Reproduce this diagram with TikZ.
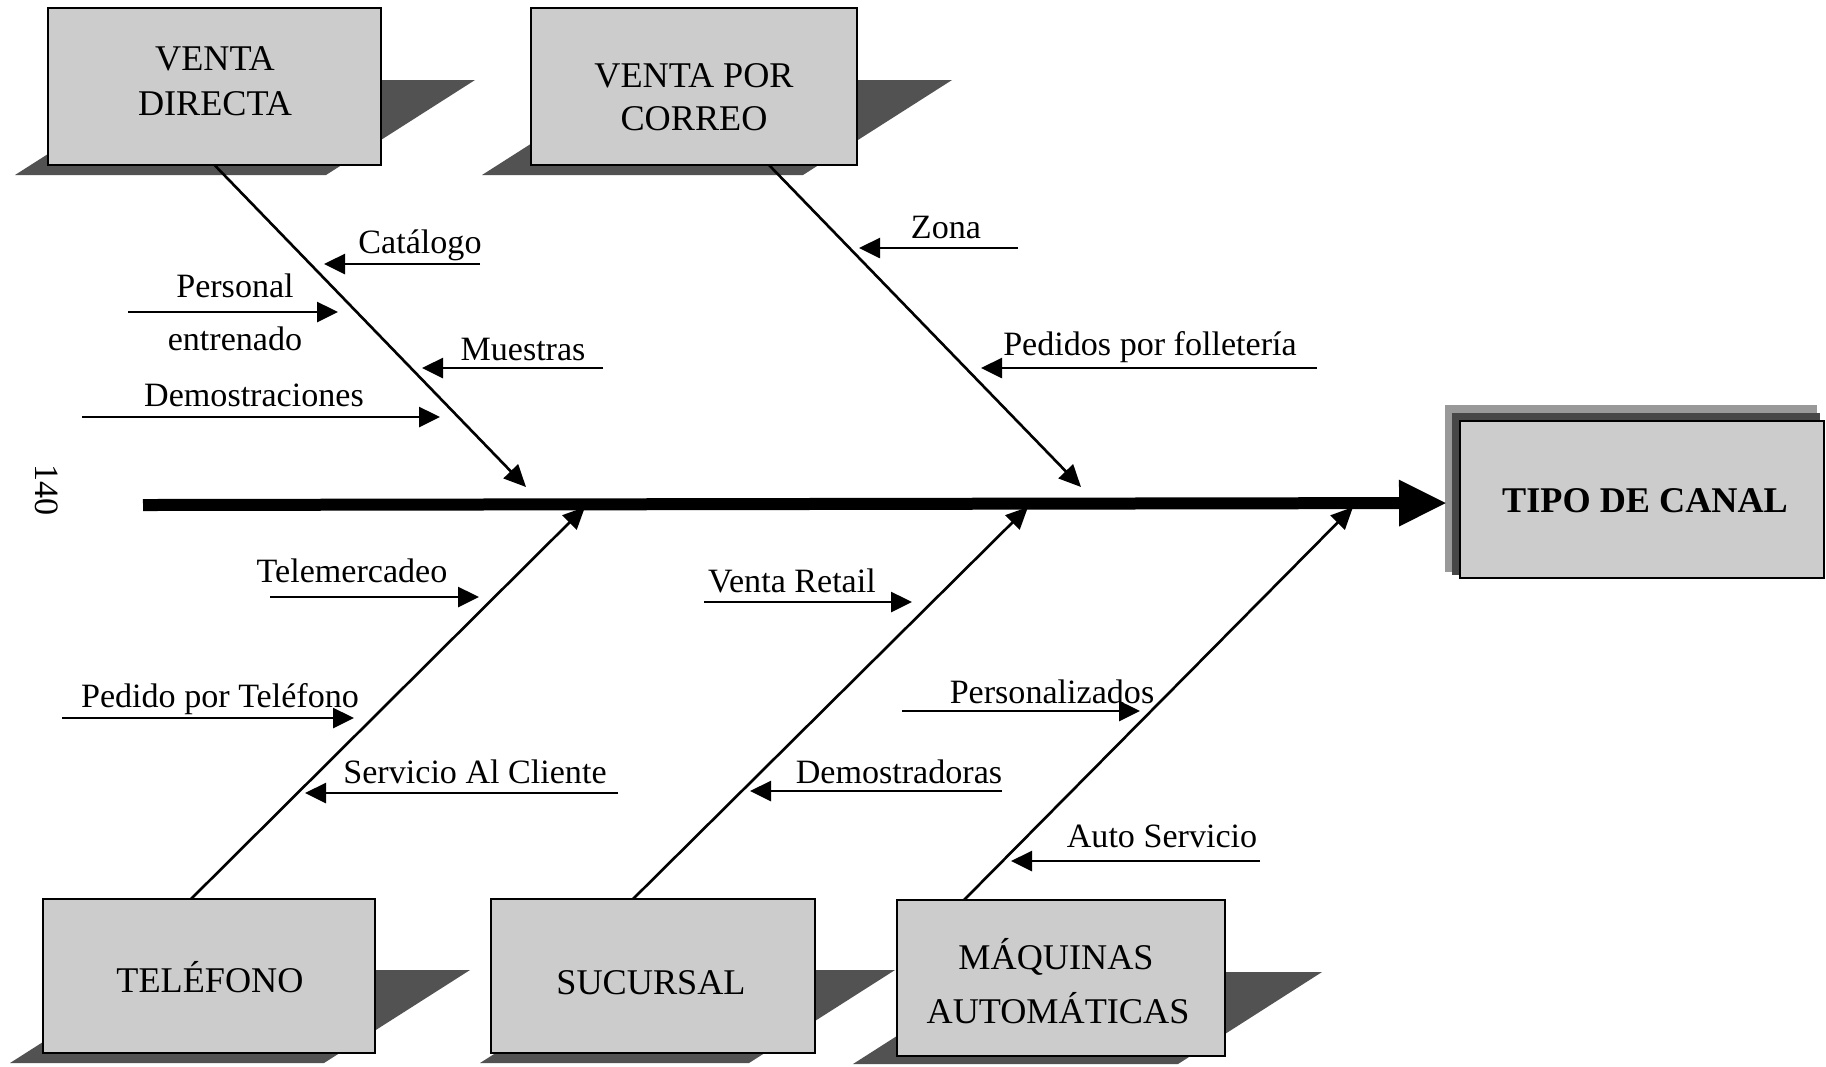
\documentclass[tikz,border=0pt]{standalone}
\usepackage{fontspec}
\setmainfont{Liberation Serif}
\usetikzlibrary{arrows.meta}
\begin{document}
\begin{tikzpicture}[x=0.1mm,y=-0.1mm,
  boxst/.style={draw=black, line width=0.6pt, fill=black!20, inner sep=0pt},
  shadowst/.style={fill=black!68, draw=none},
  lbl/.style={font=\fontsize{9.7pt}{12pt}\selectfont, inner sep=0pt, anchor=base},
  boxtxt/.style={font=\fontsize{10.3pt}{12.5pt}\selectfont, inner sep=0pt, anchor=base},
  bone/.style={line width=0.75pt, -{Triangle[length=2.2mm,width=2mm]}},
  sub/.style={line width=0.75pt, -{Triangle[length=2.1mm,width=2mm]}},
  spine/.style={line width=1.2mm, -{Triangle[length=4.8mm,width=4.3mm]}}
]
\useasboundingbox (0,0) rectangle (1826,1066);

% ---------- shadows ----------
\fill[shadowst] (15,175) -- (326,175) -- (475,80) -- (164,80) -- cycle;
\fill[shadowst] (482,175) -- (803,175) -- (952,80) -- (631,80) -- cycle;
\fill[shadowst] (10,1063) -- (324,1063) -- (470,970) -- (156,970) -- cycle;
\fill[shadowst] (480,1063) -- (749,1063) -- (895,970) -- (626,970) -- cycle;
\fill[shadowst] (853,1064) -- (1178,1064) -- (1322,972) -- (997,972) -- cycle;
\fill[black!40] (1445,405) rectangle (1817,572);
\fill[black!72] (1452,413) rectangle (1820,575);

% ---------- boxes ----------
\node[boxst, minimum width=33.3mm, minimum height=15.7mm] (vd)  at (214.5,86.5) {};
\node[boxst, minimum width=32.6mm, minimum height=15.7mm] (vpc) at (694,86.5) {};
\node[boxst, minimum width=33.2mm, minimum height=15.4mm] (tel) at (209,976) {};
\node[boxst, minimum width=32.4mm, minimum height=15.4mm] (suc) at (653,976) {};
\node[boxst, minimum width=32.8mm, minimum height=15.6mm] (maq) at (1061,978) {};
\node[boxst, minimum width=36.4mm, minimum height=15.7mm] (canal) at (1642,499.5) {};

\node[boxtxt] (vd1) at (215,70) {VENTA};
\node[boxtxt] (vd2) at (215,115) {DIRECTA};
\node[boxtxt] (vpc1) at (694,87) {VENTA POR};
\node[boxtxt] (vpc2) at (694,130) {CORREO};
\node[boxtxt] (telt) at (210,992) {TELÉFONO};
\node[boxtxt] (suct) at (651,994) {SUCURSAL};
\node[boxtxt] (maq1) at (1056,969) {MÁQUINAS};
\node[boxtxt] (maq2) at (1058,1023) {AUTOMÁTICAS};
\node[boxtxt, font=\fontsize{10.3pt}{12.5pt}\selectfont\bfseries] (canalt) at (1645,512) {TIPO DE CANAL};

\node[lbl, anchor=center, rotate=-90] (pg) at (47,490) {140};

% ---------- spine ----------
\coordinate (sp0) at (143,505);
\coordinate (sp1) at (1447,503);
\draw[spine] (sp0) -- (sp1);

% ---------- bones ----------
\coordinate (b1s) at (214.5,165);  \coordinate (b1e) at (526,487);
\coordinate (b2s) at (769,165);    \coordinate (b2e) at (1081,487);
\coordinate (b3s) at (191,899);    \coordinate (b3e) at (585,507);
\coordinate (b4s) at (633,899);    \coordinate (b4e) at (1028,507);
\coordinate (b5s) at (964,900);    \coordinate (b5e) at (1353,507);
\draw[bone] (b1s) -- (b1e);
\draw[bone] (b2s) -- (b2e);
\draw[bone] (b3s) -- (b3e);
\draw[bone] (b4s) -- (b4e);
\draw[bone] (b5s) -- (b5e);

% ---------- sub-causes ----------
\coordinate (s1a) at (480,264);  \coordinate (s1b) at (324,264);
\coordinate (s2a) at (128,312);  \coordinate (s2b) at (338,312);
\coordinate (s3a) at (603,368);  \coordinate (s3b) at (422,368);
\coordinate (s4a) at (82,417);   \coordinate (s4b) at (440,417);
\coordinate (s5a) at (1018,248); \coordinate (s5b) at (859,248);
\coordinate (s6a) at (1317,368); \coordinate (s6b) at (981,368);
\coordinate (s7a) at (270,597);  \coordinate (s7b) at (479,597);
\coordinate (s8a) at (62,718);   \coordinate (s8b) at (354,718);
\coordinate (s9a) at (618,793);  \coordinate (s9b) at (305,793);
\coordinate (s10a) at (704,602); \coordinate (s10b) at (912,602);
\coordinate (s11a) at (1002,791);\coordinate (s11b) at (750,791);
\coordinate (s12a) at (902,711); \coordinate (s12b) at (1140,711);
\coordinate (s13a) at (1260,861);\coordinate (s13b) at (1011,861);
\foreach \i in {1,...,13} {\draw[sub] (s\i a) -- (s\i b);}

\node[lbl] (t1) at (420,253) {Catálogo};
\node[lbl] (t2a) at (235,297) {Personal};
\node[lbl] (t2b) at (235,350) {entrenado};
\node[lbl] (t3) at (523,360) {Muestras};
\node[lbl] (t4) at (254,406) {Demostraciones};
\node[lbl] (t5) at (946,238) {Zona};
\node[lbl] (t6) at (1150,355) {Pedidos por folletería};
\node[lbl] (t7) at (352,582) {Telemercadeo};
\node[lbl] (t8) at (220,707) {Pedido por Teléfono};
\node[lbl] (t9) at (475,783) {Servicio Al Cliente};
\node[lbl] (t10) at (792,592) {Venta Retail};
\node[lbl] (t11) at (899,783) {Demostradoras};
\node[lbl] (t12) at (1052,703) {Personalizados};
\node[lbl] (t13) at (1162,847) {Auto Servicio};
\end{tikzpicture}
\end{document}
